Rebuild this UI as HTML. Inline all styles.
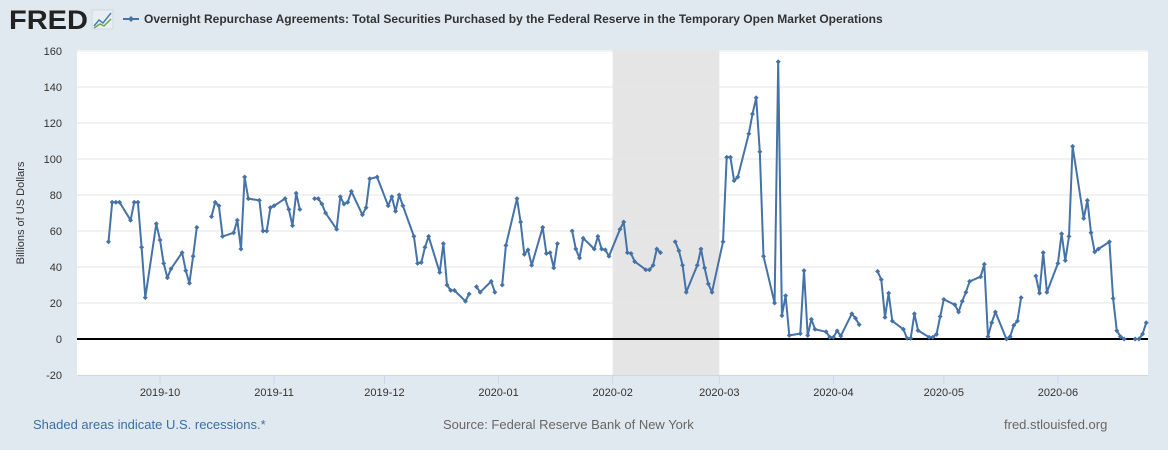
<!DOCTYPE html>
<html><head><meta charset="utf-8"><style>
body{margin:0;width:1168px;height:450px;background:#e1e9f0;font-family:"Liberation Sans",sans-serif;overflow:hidden}
svg{display:block}
</style></head><body>
<svg width="1168" height="450" id="chart">
<g>
<text x="9" y="29" font-size="27" font-weight="bold" fill="#222" textLength="79" lengthAdjust="spacingAndGlyphs">FRED</text>
<rect x="92" y="10" width="21" height="19" fill="#e8eef3" stroke="#cfd8e0"/>
<polyline points="94,26 99,20 103,23 111,13" fill="none" stroke="#4a7fb5" stroke-width="1.5"/>
<polyline points="94,28 100,24 104,26 111,19" fill="none" stroke="#6aa84f" stroke-width="1.5"/>
</g>
<g>
<line x1="123" y1="19" x2="139" y2="19" stroke="#4572a7" stroke-width="2"/>
<path d="M131,16 L134,19 L131,22 L128,19Z" fill="#4572a7"/>
<text x="144" y="23" font-size="12" font-weight="bold" fill="#333">Overnight Repurchase Agreements: Total Securities Purchased by the Federal Reserve in the Temporary Open Market Operations</text>
</g>
<rect x="77" y="50" width="1071" height="326" fill="#fff"/>
<g id="grid"></g>
<g id="series"></g>
<text transform="translate(24,213) rotate(-90)" text-anchor="middle" font-size="11" fill="#333">Billions of US Dollars</text>
<text x="33" y="429" font-size="13" fill="#3a6ea5">Shaded areas indicate U.S. recessions.*</text>
<text x="443" y="429" font-size="13" fill="#666">Source: Federal Reserve Bank of New York</text>
<text x="1004" y="429" font-size="13" fill="#666">fred.stlouisfed.org</text>
</svg>
<script>
const yTicks=[-20,0,20,40,60,80,100,120,140,160];
const xTickLabels=["2019-10","2019-11","2019-12","2020-01","2020-02","2020-03","2020-04","2020-05","2020-06"];
const recession=["2020-02-01","2020-03-01"];
const dates=[
"2019-09-17","2019-09-18","2019-09-19","2019-09-20","2019-09-23","2019-09-24","2019-09-25","2019-09-26","2019-09-27","2019-09-30",
"2019-10-01","2019-10-02","2019-10-03","2019-10-04","2019-10-07","2019-10-08","2019-10-09","2019-10-10","2019-10-11","2019-10-14","2019-10-15","2019-10-16","2019-10-17","2019-10-18","2019-10-21","2019-10-22","2019-10-23","2019-10-24","2019-10-25","2019-10-28","2019-10-29","2019-10-30","2019-10-31",
"2019-11-01","2019-11-04","2019-11-05","2019-11-06","2019-11-07","2019-11-08","2019-11-11","2019-11-12","2019-11-13","2019-11-14","2019-11-15","2019-11-18","2019-11-19","2019-11-20","2019-11-21","2019-11-22","2019-11-25","2019-11-26","2019-11-27","2019-11-29",
"2019-12-02","2019-12-03","2019-12-04","2019-12-05","2019-12-06","2019-12-09","2019-12-10","2019-12-11","2019-12-12","2019-12-13","2019-12-16","2019-12-17","2019-12-18","2019-12-19","2019-12-20","2019-12-23","2019-12-24","2019-12-25","2019-12-26","2019-12-27","2019-12-30","2019-12-31",
"2020-01-01","2020-01-02","2020-01-03","2020-01-06","2020-01-07","2020-01-08","2020-01-09","2020-01-10","2020-01-13","2020-01-14","2020-01-15","2020-01-16","2020-01-17","2020-01-20","2020-01-21","2020-01-22","2020-01-23","2020-01-24","2020-01-27","2020-01-28","2020-01-29","2020-01-30","2020-01-31",
"2020-02-03","2020-02-04","2020-02-05","2020-02-06","2020-02-07","2020-02-10","2020-02-11","2020-02-12","2020-02-13","2020-02-14","2020-02-17","2020-02-18","2020-02-19","2020-02-20","2020-02-21","2020-02-24","2020-02-25","2020-02-26","2020-02-27","2020-02-28",
"2020-03-02","2020-03-03","2020-03-04","2020-03-05","2020-03-06","2020-03-09","2020-03-10","2020-03-11","2020-03-12","2020-03-13","2020-03-16","2020-03-17","2020-03-18","2020-03-19","2020-03-20","2020-03-23","2020-03-24","2020-03-25","2020-03-26","2020-03-27","2020-03-30","2020-03-31",
"2020-04-01","2020-04-02","2020-04-03","2020-04-06","2020-04-07","2020-04-08","2020-04-10","2020-04-13","2020-04-14","2020-04-15","2020-04-16","2020-04-17","2020-04-20","2020-04-21","2020-04-22","2020-04-23","2020-04-24","2020-04-27","2020-04-28","2020-04-29","2020-04-30",
"2020-05-01","2020-05-04","2020-05-05","2020-05-06","2020-05-07","2020-05-08","2020-05-11","2020-05-12","2020-05-13","2020-05-14","2020-05-15","2020-05-18","2020-05-19","2020-05-20","2020-05-21","2020-05-22","2020-05-25","2020-05-26","2020-05-27","2020-05-28","2020-05-29",
"2020-06-01","2020-06-02","2020-06-03","2020-06-04","2020-06-05","2020-06-08","2020-06-09","2020-06-10","2020-06-11","2020-06-12","2020-06-15","2020-06-16","2020-06-17","2020-06-18","2020-06-19","2020-06-20","2020-06-22","2020-06-23","2020-06-24","2020-06-25"];
const values=[
54,76,76,76,66,76,76,51,23,64,
55,42,34,39,48,38,31,46,62,null,68,76,74,57,59,66,50,90,78,77,60,60,73,
74,78,72,63,81,72,null,78,78,75,70,61,79,75,76,82,69,73,89,90,
74,79,71,80,74,57,42,42.5,51,57,37,53,30,27,27,21,25,null,29,26,32,26,
null,30,52,78,65,47,49.5,41,62,47.5,48,39.5,53,null,60,50,45,56,50,57,50,49.5,46,
61,65,48,47.5,43,38.5,38.5,41,50,48,null,54,49,41,26,41,50,39.5,30.6,26,
54,101,101,88,90,114,125,134,104,46,20,154,13,24,2,3,38,2,11,5.4,4,1,
1,4.5,1.7,14,11.5,8,null,37.6,33,12,25.5,10,5.4,0.4,0.4,14,4.7,1,1,2.6,12.5,
22,19,15,21,26,32,34.6,41.5,1.3,9,15,0,1.3,7.6,10,23,null,35,25.5,48,26,
42,58.5,43.6,57,107,67,77,59,48.4,50,54,22.5,4.6,1.3,0,null,0,0,2.8,9];
</script>
<script>
const NS="http://www.w3.org/2000/svg";
const svg=document.getElementById('chart'),grid=document.getElementById('grid'),ser=document.getElementById('series');
const X0=Date.UTC(2019,9,1),PX0=160,PPD=3.68;
function xs(d){const p=d.split('-').map(Number);return PX0+(Date.UTC(p[0],p[1]-1,p[2]||1)-X0)/864e5*PPD;}
function ys(v){return 339-v*1.8;}
function mk(t,a){const e=document.createElementNS(NS,t);for(const k in a)e.setAttribute(k,a[k]);return e;}
const sh=mk('rect',{x:xs(recession[0]),y:50,width:xs(recession[1])-xs(recession[0]),height:326,fill:'#e5e5e5'});


grid.appendChild(sh);
yTicks.forEach(v=>{
 if(v!==0&&v!==-20){const l=mk('line',{x1:77,x2:1148,y1:ys(v),y2:ys(v),stroke:'#e6e6e6','stroke-width':1});
 
 
 grid.appendChild(l);}
 const t=mk('text',{x:62,y:ys(v)+4,'text-anchor':'end','font-size':11,fill:'#333'});t.textContent=v;
 
 
 svg.appendChild(t);
});
const ax=mk('line',{x1:77,x2:1148,y1:375.5,y2:375.5,stroke:'#ccd6eb','stroke-width':1});


svg.appendChild(ax);
xTickLabels.forEach(s=>{
 const x=xs(s);
 const tk=mk('line',{x1:x,x2:x,y1:376,y2:384,stroke:'#ccd6eb'});
 
 
 svg.appendChild(tk);
 const t=mk('text',{x:x,y:396,'text-anchor':'middle','font-size':11,fill:'#333'});t.textContent=s;
 
 
 svg.appendChild(t);
});
let d='',pen=false;
dates.forEach((dt,i)=>{const v=values[i];if(v===null||v===undefined){pen=false;return;}d+=(pen?'L':'M')+xs(dt).toFixed(1)+','+ys(v).toFixed(1);pen=true;});
const path=mk('path',{d:d,fill:'none',stroke:'#4572a7','stroke-width':2,'stroke-linejoin':'round'});


ser.appendChild(path);
dates.forEach((dt,i)=>{const v=values[i];if(v===null||v===undefined)return;const x=xs(dt),y=ys(v);
 const m=mk('path',{d:`M${x},${y-2.5}L${x+2.5},${y}L${x},${y+2.5}L${x-2.5},${y}Z`,fill:'#4572a7'});
 
 
 ser.appendChild(m);});
const z=mk('line',{x1:77,x2:1148,y1:339,y2:339,stroke:'#000','stroke-width':2});


grid.appendChild(z);
</script>
</body></html>
